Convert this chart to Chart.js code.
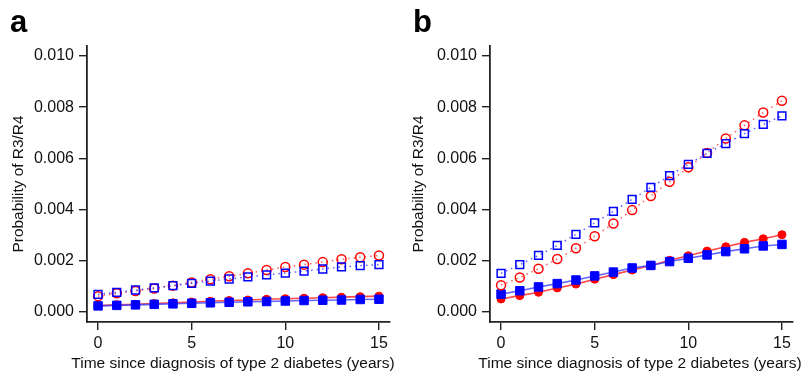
<!DOCTYPE html>
<html lang="en">
<head>
<meta charset="UTF-8">
<title>Probability of R3/R4</title>
<script src="https://cdn.jsdelivr.net/npm/chart.js"></script>
<style>
    body { margin: 0; background: #fff; font-family: "Liberation Sans", Arial, sans-serif; }
    .panel { position: absolute; top: 0; height: 373px; }
    .tag { position: absolute; top: 4px; font-weight: bold; font-size: 31px; color: #000; }
    .xtitle { position: absolute; top: 354px; width: 360px; text-align: center; font-size: 15.5px; line-height: 18px; color: #111; white-space: nowrap; }
</style>
</head>
<body>
<div class="panel" style="left:0;width:400px"><canvas id="chartA" width="400" height="373"></canvas></div>
<div class="panel" style="left:400px;width:404px"><canvas id="chartB" width="404" height="373"></canvas></div>
<div class="tag" style="left:10px">a</div>
<div class="tag" style="left:413px">b</div>
<div class="xtitle" style="left:53px">Time since diagnosis of type 2 diabetes (years)</div>
<div class="xtitle" style="left:460px">Time since diagnosis of type 2 diabetes (years)</div>
<script>
const years = [0, 1, 2, 3, 4, 5, 6, 7, 8, 9, 10, 11, 12, 13, 14, 15];
const yTicks = [0, 0.002, 0.004, 0.006, 0.008, 0.010];
const xTicks = [0, 5, 10, 15];

// panel a
const aRedOpen = [0.00062, 0.00073, 0.00082, 0.00092, 0.00103, 0.00115, 0.00128, 0.00140, 0.00151, 0.00164, 0.00176, 0.00185, 0.00195, 0.00206, 0.00214, 0.00221];
const aBlueOpen = [0.00069, 0.00077, 0.00086, 0.00094, 0.00103, 0.00112, 0.00121, 0.00129, 0.00137, 0.00145, 0.00152, 0.00160, 0.00168, 0.00176, 0.00181, 0.00185];
const aRedFilled = [0.00025, 0.00028, 0.00030, 0.00033, 0.00036, 0.00039, 0.00042, 0.00045, 0.00047, 0.00050, 0.00052, 0.00054, 0.00056, 0.00058, 0.00060, 0.00062];
const aBlueFilled = [0.00024, 0.00026, 0.00028, 0.00030, 0.00032, 0.00034, 0.00036, 0.00038, 0.00040, 0.00041, 0.00043, 0.00045, 0.00046, 0.00047, 0.00049, 0.00050];

// panel b
const bRedOpen = [0.00105, 0.00135, 0.00169, 0.00207, 0.00249, 0.00296, 0.00346, 0.00398, 0.00453, 0.00509, 0.00565, 0.00621, 0.00678, 0.00729, 0.00779, 0.00825];
const bBlueOpen = [0.00151, 0.00185, 0.00221, 0.00260, 0.00303, 0.00348, 0.00393, 0.00440, 0.00487, 0.00533, 0.00577, 0.00620, 0.00658, 0.00697, 0.00733, 0.00766];
const bRedFilled = [0.00051, 0.00064, 0.00077, 0.00094, 0.00109, 0.00128, 0.00146, 0.00164, 0.00182, 0.00202, 0.00220, 0.00238, 0.00255, 0.00272, 0.00286, 0.00302];
const bBlueFilled = [0.00070, 0.00083, 0.00098, 0.00111, 0.00125, 0.00141, 0.00156, 0.00172, 0.00182, 0.00197, 0.00210, 0.00223, 0.00236, 0.00247, 0.00258, 0.00264];

const RED = '#ff0000';
const BLUE = '#0000ff';

function pts(vals) {
    return vals.map((v, i) => ({ x: years[i], y: v }));
}

function series(vals, color, lineColor, open, shape) {
    return {
        data: pts(vals),
        borderColor: lineColor,
        borderWidth: open ? 1.5 : 1.6,
        borderDash: open ? [1.5, 4] : [],
        pointStyle: shape,
        pointRadius: shape === 'rect' ? (open ? 5.5 : 6) : (open ? 4.5 : 4),
        pointBorderWidth: open ? 1.5 : 1,
        pointBorderColor: color,
        pointBackgroundColor: open ? 'rgba(0,0,0,0)' : color,
        fill: false,
        tension: 0
    };
}

function makeChart(id, sets, leftW, padRight) {
    new Chart(document.getElementById(id), {
        type: 'line',
        data: { datasets: sets },
        options: {
            responsive: false,
            animation: false,
            layout: { padding: { top: 46, right: padRight, bottom: 0, left: 0 } },
            plugins: { legend: { display: false }, tooltip: { enabled: false } },
            scales: {
                x: {
                    type: 'linear',
                    min: -0.59, max: 15.59,
                    afterBuildTicks: s => { s.ticks = xTicks.map(v => ({ value: v })); },
                    afterFit: s => { s.height = 51; },
                    grid: { display: true, drawOnChartArea: false, drawTicks: true, tickLength: 8, color: '#222', lineWidth: 1.4 },
                    border: { display: true, color: '#222', width: 1.8 },
                    ticks: { color: '#111', font: { family: 'Liberation Sans', size: 16 }, padding: 4, maxRotation: 0 }
                },
                y: {
                    min: -0.00039, max: 0.01039,
                    afterBuildTicks: s => { s.ticks = yTicks.map(v => ({ value: v })); },
                    afterFit: s => { s.width = leftW; },
                    grid: { display: true, drawOnChartArea: false, drawTicks: true, tickLength: 8, color: '#222', lineWidth: 1.4 },
                    border: { display: true, color: '#222', width: 1.8 },
                    ticks: { color: '#111', font: { family: 'Liberation Sans', size: 16 }, padding: 5,
                        callback: v => v.toFixed(3) },
                    title: { display: true, text: 'Probability of R3/R4', color: '#111',
                        font: { family: 'Liberation Sans', size: 15.4 }, padding: { top: 10, bottom: 0 } }
                }
            }
        }
    });
}

makeChart('chartA', [
    series(aBlueOpen, BLUE, 'rgba(40,40,255,0.75)', true, 'rect'),
    series(aRedOpen, RED, 'rgba(255,40,40,0.75)', true, 'circle'),
    series(aBlueFilled, BLUE, 'rgba(60,60,255,0.8)', false, 'rect'),
    series(aRedFilled, RED, 'rgba(255,40,40,0.85)', false, 'circle')
], 87, 10);

makeChart('chartB', [
    series(bBlueOpen, BLUE, 'rgba(40,40,255,0.75)', true, 'rect'),
    series(bRedOpen, RED, 'rgba(255,40,40,0.75)', true, 'circle'),
    series(bBlueFilled, BLUE, 'rgba(60,60,255,0.8)', false, 'rect'),
    series(bRedFilled, RED, 'rgba(255,40,40,0.85)', false, 'circle')
], 90, 11);
</script>
</body>
</html>
